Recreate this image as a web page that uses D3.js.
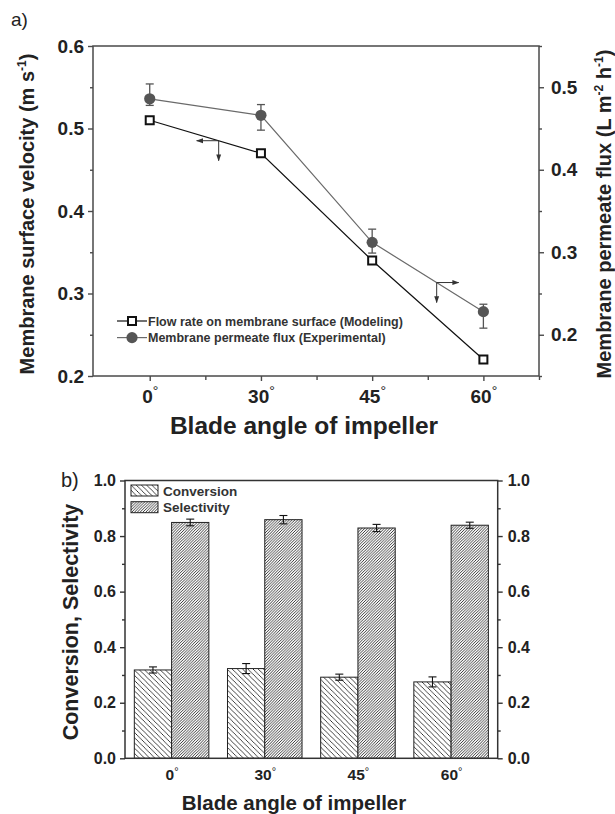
<!DOCTYPE html>
<html>
<head>
<meta charset="utf-8">
<script src="https://cdn.jsdelivr.net/npm/d3@7"></script>
<style>
  body { margin: 0; background: #fff; }
  text { font-family: "Liberation Sans", Arial, sans-serif; }
</style>
</head>
<body>
<svg id="fig" width="615" height="814"></svg>
<script>
// ---- data (a) ----
var angles = ["0", "30", "45", "60"];
var flowModel = [0.51, 0.47, 0.34, 0.22];          // m s-1, left axis
var fluxExp = [0.486, 0.466, 0.312, 0.228];        // L m-2 h-1, right axis
var fluxErrUp = [0.018, 0.013, 0.016, 0.009];
var fluxErrDown = [0.008, 0.018, 0.013, 0.020];
var leftTicksA = [0.2, 0.3, 0.4, 0.5, 0.6];
var rightTicksA = [0.2, 0.3, 0.4, 0.5];
var legendA = ["Flow rate on membrane surface (Modeling)", "Membrane permeate flux (Experimental)"];

// ---- data (b) ----
var conversion = [0.318, 0.323, 0.292, 0.275];
var conversionErr = [0.011, 0.018, 0.011, 0.018];
var selectivity = [0.849, 0.859, 0.829, 0.839];
var selectivityErr = [0.012, 0.015, 0.013, 0.011];
var ticksB = [0, 0.2, 0.4, 0.6, 0.8, 1.0];
var legendB = ["Conversion", "Selectivity"];

var svg = d3.select("#fig");
var axisCol = "#4a4a4a", textCol = "#222";
var fmt = d3.format(".1f");

var defs = svg.append("defs");
defs.append("marker").attr("id", "ah")
    .attr("viewBox", "0 0 10 10").attr("refX", 9).attr("refY", 5)
    .attr("markerUnits", "userSpaceOnUse").attr("markerWidth", 7).attr("markerHeight", 7)
    .attr("orient", "auto")
  .append("path").attr("d", "M0,1.5L10,5L0,8.5Z").attr("fill", "#333");

var pc = defs.append("pattern").attr("id", "hConv").attr("patternUnits", "userSpaceOnUse")
    .attr("width", 5.2).attr("height", 5.2);
pc.append("rect").attr("width", 5.2).attr("height", 5.2).attr("fill", "#fff");
pc.append("path").attr("d", "M0,0L5.2,5.2M-1,4.2L1,6.2M4.2,-1L6.2,1")
    .attr("stroke", "#222").attr("stroke-width", 0.85);
var ps = defs.append("pattern").attr("id", "hSel").attr("patternUnits", "userSpaceOnUse")
    .attr("width", 2.8).attr("height", 2.8);
ps.append("rect").attr("width", 2.8).attr("height", 2.8).attr("fill", "#fff");
ps.append("path").attr("d", "M0,2.8L2.8,0M-1,1L1,-1M1.8,3.8L3.8,1.8")
    .attr("stroke", "#222").attr("stroke-width", 0.9);

function styleAxis(g, size, col) {
  g.attr("font-family", null).attr("font-size", null);
  g.select(".domain").remove();
  g.selectAll("line").attr("stroke", col).attr("stroke-width", 1.4);
  g.selectAll("text").attr("font-size", size).attr("font-weight", "bold").attr("fill", textCol);
}

function supText(sel, parts, size) {
  parts.forEach(function(p) {
    var t = sel.append("tspan").text(p[0]);
    if (p[1]) t.attr("font-size", size * 0.6).attr("dy", -size * 0.42);
    else if (p[2]) t.attr("dy", size * 0.42);
  });
}

// =================== chart (a) ===================
var xa = d3.scaleLinear().domain([-0.51, 3.5]).range([93, 539]);
var ya = d3.scaleLinear().domain([0.2, 0.6]).range([376, 46]);
var ya2 = d3.scaleLinear().domain([0.15, 0.55]).range([376, 46]);
var ga = svg.append("g");

ga.append("text").attr("x", 11).attr("y", 26).attr("font-size", 19).attr("fill", textCol).text("a)");

ga.append("rect").attr("x", xa.range()[0]).attr("y", ya.range()[1])
  .attr("width", xa.range()[1] - xa.range()[0]).attr("height", ya.range()[0] - ya.range()[1])
  .attr("fill", "none").attr("stroke", axisCol).attr("stroke-width", 1.5);

ga.append("g").attr("transform", "translate(" + xa.range()[0] + ",0)")
  .call(d3.axisLeft(ya).tickValues(leftTicksA).tickSize(5).tickPadding(4).tickFormat(fmt))
  .call(styleAxis, 19, axisCol);
ga.append("g").attr("transform", "translate(" + xa.range()[0] + ",0)")
  .call(d3.axisLeft(ya).tickValues([0.25, 0.35, 0.45, 0.55]).tickSize(3).tickFormat(""))
  .call(styleAxis, 19, axisCol);
ga.append("g").attr("transform", "translate(" + xa.range()[1] + ",0)")
  .call(d3.axisRight(ya2).tickValues(rightTicksA).tickSize(5).tickPadding(7).tickFormat(fmt))
  .call(styleAxis, 19, axisCol);
ga.append("g").attr("transform", "translate(" + xa.range()[1] + ",0)")
  .call(d3.axisRight(ya2).tickValues([0.15, 0.25, 0.35, 0.45, 0.55]).tickSize(3).tickFormat(""))
  .call(styleAxis, 19, axisCol);
var xaxA = ga.append("g").attr("transform", "translate(0," + ya.range()[0] + ")")
  .call(d3.axisBottom(xa).tickValues([0, 1, 2, 3]).tickSize(5).tickPadding(9).tickFormat(function(i) { return angles[i]; }))
  .call(styleAxis, 19, axisCol);
xaxA.selectAll("text").append("tspan").attr("font-size", 14).attr("font-weight", "normal").attr("dy", "-0.5em").text("°");
ga.append("g").attr("transform", "translate(0," + ya.range()[0] + ")")
  .call(d3.axisBottom(xa).tickValues([0.5, 1.5, 2.5, 3.5]).tickSize(4).tickFormat(""))
  .call(styleAxis, 19, axisCol);

// axis titles
var lt = ga.append("text").attr("transform", "translate(34,214) rotate(-90)")
  .attr("text-anchor", "middle").attr("font-size", 20).attr("font-weight", "bold").attr("fill", textCol);
supText(lt, [["Membrane surface velocity (m s"], ["-1", true], [")", false, true]], 20);
var rt = ga.append("text").attr("transform", "translate(611,214) rotate(-90)")
  .attr("text-anchor", "middle").attr("font-size", 20).attr("font-weight", "bold").attr("fill", textCol);
supText(rt, [["Membrane permeate flux (L m"], ["-2", true], [" h", false, true], ["-1", true], [")", false, true]], 20);
ga.append("text").attr("x", 304).attr("y", 434).attr("text-anchor", "middle")
  .attr("font-size", 24.5).attr("font-weight", "bold").attr("fill", textCol).text("Blade angle of impeller");

// series
var idx = d3.range(angles.length);
ga.append("path").datum(idx).attr("fill", "none").attr("stroke", "#111").attr("stroke-width", 1.2)
  .attr("d", d3.line().x(function(i) { return xa(i); }).y(function(i) { return ya(flowModel[i]); }));
ga.append("path").datum(idx).attr("fill", "none").attr("stroke", "#6a6a6a").attr("stroke-width", 1.2)
  .attr("d", d3.line().x(function(i) { return xa(i); }).y(function(i) { return ya2(fluxExp[i]); }));

var eb = ga.selectAll(".eb").data(idx).enter().append("g").attr("stroke", "#555").attr("stroke-width", 1.3);
eb.append("line").attr("x1", function(i) { return xa(i); }).attr("x2", function(i) { return xa(i); })
  .attr("y1", function(i) { return ya2(fluxExp[i] + fluxErrUp[i]); })
  .attr("y2", function(i) { return ya2(fluxExp[i] - fluxErrDown[i]); });
eb.append("line").attr("x1", function(i) { return xa(i) - 4; }).attr("x2", function(i) { return xa(i) + 4; })
  .attr("y1", function(i) { return ya2(fluxExp[i] + fluxErrUp[i]); })
  .attr("y2", function(i) { return ya2(fluxExp[i] + fluxErrUp[i]); });
eb.append("line").attr("x1", function(i) { return xa(i) - 4; }).attr("x2", function(i) { return xa(i) + 4; })
  .attr("y1", function(i) { return ya2(fluxExp[i] - fluxErrDown[i]); })
  .attr("y2", function(i) { return ya2(fluxExp[i] - fluxErrDown[i]); });

ga.selectAll(".cir").data(idx).enter().append("circle")
  .attr("cx", function(i) { return xa(i); }).attr("cy", function(i) { return ya2(fluxExp[i]); })
  .attr("r", 5.6).attr("fill", "#555");
ga.selectAll(".sq").data(idx).enter().append("rect")
  .attr("x", function(i) { return xa(i) - 4; }).attr("y", function(i) { return ya(flowModel[i]) - 4; })
  .attr("width", 8).attr("height", 8).attr("fill", "#fff").attr("stroke", "#111").attr("stroke-width", 2);

// arrows pointing to the axis each series belongs to
function interp(arr, t) {
  var i = Math.floor(t), f = t - i;
  return arr[i] + (arr[i + 1] - arr[i]) * f;
}
var arrows = [
  { t: 0.62, y: function(t) { return ya(interp(flowModel, t)); }, dir: -1 },
  { t: 2.58, y: function(t) { return ya2(interp(fluxExp, t)); }, dir: 1 }
];
arrows.forEach(function(a) {
  var x0 = xa(a.t), y0 = a.y(a.t);
  ga.append("line").attr("x1", x0).attr("y1", y0).attr("x2", x0 + a.dir * 22).attr("y2", y0)
    .attr("stroke", "#333").attr("stroke-width", 1).attr("marker-end", "url(#ah)");
  ga.append("line").attr("x1", x0).attr("y1", y0).attr("x2", x0).attr("y2", y0 + 20)
    .attr("stroke", "#333").attr("stroke-width", 1).attr("marker-end", "url(#ah)");
});

// legend (a)
var lgA = ga.selectAll(".lga").data(legendA).enter().append("g")
  .attr("transform", function(d, i) { return "translate(117," + (321 + i * 16.6) + ")"; });
lgA.append("line").attr("x1", 0).attr("x2", 30).attr("stroke", function(d, i) { return i ? "#6a6a6a" : "#111"; })
  .attr("stroke-width", 1.2);
lgA.filter(function(d, i) { return i === 0; }).append("rect").attr("x", 11).attr("y", -4).attr("width", 8).attr("height", 8)
  .attr("fill", "#fff").attr("stroke", "#111").attr("stroke-width", 2);
lgA.filter(function(d, i) { return i === 1; }).append("circle").attr("cx", 15).attr("r", 5.6).attr("fill", "#555");
lgA.append("text").attr("x", 31).attr("y", 4.5).attr("font-size", 12.5).attr("font-weight", "bold")
  .attr("fill", "#333").text(function(d) { return d; });

// =================== chart (b) ===================
var xb = d3.scaleLinear().domain([-0.5, 3.5]).range([125, 497.7]);
var yb = d3.scaleLinear().domain([0, 1]).range([758.3, 480.5]);
var barW = 0.4;
var gb = svg.append("g");

gb.append("text").attr("x", 61).attr("y", 487).attr("font-size", 20).attr("fill", textCol).text("b)");

gb.selectAll(".bc").data(idx).enter().append("rect")
  .attr("x", function(i) { return xb(i - barW); }).attr("width", xb(barW) - xb(0))
  .attr("y", function(i) { return yb(conversion[i]); })
  .attr("height", function(i) { return yb(0) - yb(conversion[i]); })
  .attr("fill", "url(#hConv)").attr("stroke", "#222").attr("stroke-width", 1);
gb.selectAll(".bs").data(idx).enter().append("rect")
  .attr("x", function(i) { return xb(i); }).attr("width", xb(barW) - xb(0))
  .attr("y", function(i) { return yb(selectivity[i]); })
  .attr("height", function(i) { return yb(0) - yb(selectivity[i]); })
  .attr("fill", "url(#hSel)").attr("stroke", "#222").attr("stroke-width", 1);

function errBars(vals, errs, off) {
  var g = gb.selectAll(null).data(idx).enter().append("g").attr("stroke", "#111").attr("stroke-width", 1.1);
  var cx = function(i) { return xb(i + off); };
  g.append("line").attr("x1", cx).attr("x2", cx)
    .attr("y1", function(i) { return yb(vals[i] + errs[i]); }).attr("y2", function(i) { return yb(vals[i] - errs[i]); });
  [1, -1].forEach(function(s) {
    g.append("line").attr("x1", function(i) { return cx(i) - 4; }).attr("x2", function(i) { return cx(i) + 4; })
      .attr("y1", function(i) { return yb(vals[i] + s * errs[i]); }).attr("y2", function(i) { return yb(vals[i] + s * errs[i]); });
  });
}
errBars(conversion, conversionErr, -barW / 2);
errBars(selectivity, selectivityErr, barW / 2);

gb.append("rect").attr("x", xb.range()[0]).attr("y", yb.range()[1])
  .attr("width", xb.range()[1] - xb.range()[0]).attr("height", yb.range()[0] - yb.range()[1])
  .attr("fill", "none").attr("stroke", "#333").attr("stroke-width", 1.5);

gb.append("g").attr("transform", "translate(" + xb.range()[0] + ",0)")
  .call(d3.axisLeft(yb).tickValues(ticksB).tickSize(5).tickPadding(4).tickFormat(fmt))
  .call(styleAxis, 16, "#333");
gb.append("g").attr("transform", "translate(" + xb.range()[0] + ",0)")
  .call(d3.axisLeft(yb).tickValues([0.1, 0.3, 0.5, 0.7, 0.9]).tickSize(3).tickFormat(""))
  .call(styleAxis, 16, "#333");
gb.append("g").attr("transform", "translate(" + xb.range()[1] + ",0)")
  .call(d3.axisRight(yb).tickValues(ticksB).tickSize(5).tickPadding(5).tickFormat(fmt))
  .call(styleAxis, 16, "#333");
gb.append("g").attr("transform", "translate(" + xb.range()[1] + ",0)")
  .call(d3.axisRight(yb).tickValues([0.1, 0.3, 0.5, 0.7, 0.9]).tickSize(3).tickFormat(""))
  .call(styleAxis, 16, "#333");
var xaxB = gb.append("g").attr("transform", "translate(0," + yb.range()[0] + ")")
  .call(d3.axisBottom(xb).tickValues([0, 1, 2, 3]).tickSize(0).tickPadding(11).tickFormat(function(i) { return angles[i]; }))
  .call(styleAxis, 15.5, "#333");
xaxB.selectAll("text").append("tspan").attr("font-size", 11).attr("font-weight", "normal").attr("dy", "-0.5em").text("°");

gb.append("text").attr("transform", "translate(78,622) rotate(-90)")
  .attr("text-anchor", "middle").attr("font-size", 21.5).attr("font-weight", "bold").attr("fill", textCol)
  .text("Conversion, Selectivity");
gb.append("text").attr("x", 294).attr("y", 810).attr("text-anchor", "middle")
  .attr("font-size", 20.5).attr("font-weight", "bold").attr("fill", textCol).text("Blade angle of impeller");

// legend (b)
var lgB = gb.selectAll(".lgb").data(legendB).enter().append("g")
  .attr("transform", function(d, i) { return "translate(131," + (485 + i * 16.7) + ")"; });
lgB.append("rect").attr("width", 27).attr("height", 11)
  .attr("fill", function(d, i) { return i ? "url(#hSel)" : "url(#hConv)"; })
  .attr("stroke", "#222").attr("stroke-width", 1);
lgB.append("text").attr("x", 32).attr("y", 10.5).attr("font-size", 13.5).attr("font-weight", "bold")
  .attr("fill", "#333").text(function(d) { return d; });
</script>
</body>
</html>
